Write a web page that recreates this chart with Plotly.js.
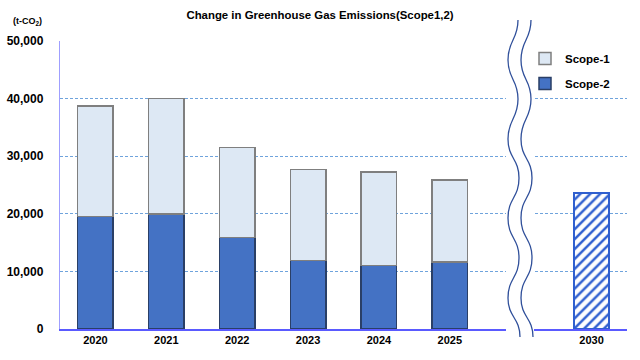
<!DOCTYPE html>
<html>
<head>
<meta charset="utf-8">
<script src="https://cdn.plot.ly/plotly-3.0.1.min.js"></script>
<style>html,body{margin:0;padding:0;background:#fff;}#chart{width:640px;height:360px;}</style>
</head>
<body>
<div id="chart"></div>
<script>
// ---- data ----
const years = ['2020', '2021', '2022', '2023', '2024', '2025'];
const scope1 = [19200, 20000, 15600, 15800, 16300, 14300];
const scope2 = [19500, 20000, 15900, 11900, 11000, 11600];
const targetYears = ['2030'];
const targetValues = [23600];
const breakSlot = 'break';
const yTicks = [0, 10000, 20000, 30000, 40000, 50000];

// ---- layout constants ----
const W = 640, H = 360;
const M = {l: 60, r: 13, t: 41, b: 31};
const PW = W - M.l - M.r, PH = H - M.t - M.b;
const FONT = '"Liberation Sans", Arial, sans-serif';

const categoryOrder = years.concat([breakSlot], targetYears);

const traces = [
  {
    type: 'bar', name: 'Scope-2', x: years, y: scope2, legendgroup: 'g2', legendrank: 2,
    marker: {color: '#4472c4', line: {color: '#2a3f66', width: 1.5}},
    width: 0.5, hoverinfo: 'x+y+name'
  },
  {
    type: 'bar', name: 'Scope-1', x: years, y: scope1, legendgroup: 'g1', legendrank: 1,
    marker: {color: '#dde8f4', line: {color: '#7f7f7f', width: 1.5}},
    width: 0.5, hoverinfo: 'x+y+name'
  },
  {
    type: 'bar', name: 'Target', x: targetYears, y: targetValues, legendgroup: 'g3', legendrank: 3,
    showlegend: false,
    marker: {
      color: '#ffffff',
      line: {color: '#2f5fcf', width: 2},
      pattern: {shape: '/', fgcolor: '#2f5fcf', bgcolor: '#ffffff', size: 7, solidity: 0.35}
    },
    width: 0.5
  }
];

// pixel -> paper helpers (for the decorative axis-break symbol)
const px = v => (v - M.l) / PW;
const py = v => (H - M.b - v) / PH;

function wave(offset) {
  // hand-placed extremes of the wavy break line (pixel coords)
  const pts = [[518,20],[508,60],[518,99],[508,139],[519,178],[508,218],[519,258],[508,298],[520,337]];
  let d = 'M ' + px(pts[0][0] + offset) + ',' + py(pts[0][1]);
  for (let i = 1; i < pts.length; i++) {
    const [x0, y0] = pts[i - 1], [x1, y1] = pts[i];
    const dy = y1 - y0;
    d += ' C ' + px(x0 + offset) + ',' + py(y0 + dy * 0.5) + ' ' +
         px(x1 + offset) + ',' + py(y1 - dy * 0.5) + ' ' +
         px(x1 + offset) + ',' + py(y1);
  }
  return d;
}

const shapes = [
  {type: 'rect', xref: 'paper', yref: 'paper', x0: px(506), x1: px(534), y0: py(332), y1: py(36),
   fillcolor: '#ffffff', line: {width: 0}, layer: 'above'},
  {type: 'path', xref: 'paper', yref: 'paper', path: wave(0), line: {color: '#2f4f9a', width: 1.3}, layer: 'above'},
  {type: 'path', xref: 'paper', yref: 'paper', path: wave(13), line: {color: '#2f4f9a', width: 1.3}, layer: 'above'}
];

const layout = {
  width: W, height: H,
  margin: M,
  paper_bgcolor: '#ffffff', plot_bgcolor: '#ffffff',
  barmode: 'stack',
  showlegend: true,
  font: {family: FONT, color: '#000000', size: 12},
  title: {
    text: '<b>Change in Greenhouse Gas Emissions(Scope1,2)</b>',
    font: {family: FONT, size: 11.4, color: '#000000'},
    x: 0.5, xanchor: 'center', xref: 'container',
    y: 1 - 15 / H, yanchor: 'middle', yref: 'container'
  },
  xaxis: {
    type: 'category', categoryorder: 'array', categoryarray: categoryOrder,
    tickvals: years.concat(targetYears),
    ticktext: years.concat(targetYears).map(t => '<b>' + t + '</b>'),
    range: [-0.5, categoryOrder.length - 0.5],
    showgrid: false, zeroline: false,
    showline: true, linecolor: '#5a5aff', linewidth: 1.5,
    ticks: '', tickfont: {family: FONT, size: 11, color: '#000000'},
    fixedrange: true
  },
  yaxis: {
    range: [0, 50000], tickvals: yTicks,
    ticktext: yTicks.map(v => '<b>' + v.toLocaleString('en-US') + '</b>'),
    showgrid: true, gridcolor: '#6fa3dc', gridwidth: 1, griddash: '3px,2px',
    zeroline: false,
    showline: true, linecolor: '#9f9fff', linewidth: 1.2,
    ticks: '', ticklabelstandoff: 13,
    tickfont: {family: FONT, size: 12, color: '#000000'},
    fixedrange: true
  },
  legend: {
    x: px(525), xanchor: 'left', y: py(44), yanchor: 'top',
    traceorder: 'grouped',
    bgcolor: 'rgba(0,0,0,0)',
    font: {family: FONT, size: 11.5, color: '#000000', weight: 'bold'},
    itemwidth: 30, tracegroupgap: 6
  },
  shapes: shapes,
  annotations: [
    {text: '<b>(t-CO<sub>2</sub>)</b>', xref: 'paper', yref: 'paper', x: px(11), y: py(21),
     xanchor: 'left', yanchor: 'middle', showarrow: false,
     font: {family: FONT, size: 9, color: '#000000'}}
  ]
};

Plotly.newPlot('chart', traces, layout, {displayModeBar: false, staticPlot: true});
</script>
</body>
</html>
